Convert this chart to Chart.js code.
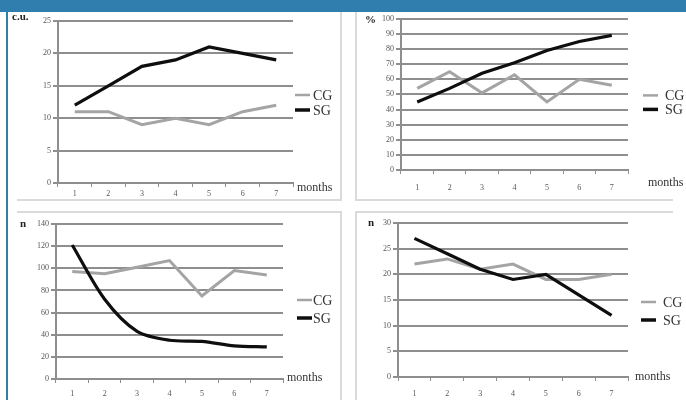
<!DOCTYPE html>
<html>
<head>
<meta charset="utf-8">
<script src="https://cdn.jsdelivr.net/npm/chart.js@4.4.1/dist/chart.umd.min.js"></script>
<style>
  html, body { margin: 0; padding: 0; background: #fff; }
  body { width: 686px; height: 400px; position: relative; overflow: hidden; }
  .header { position: absolute; left: 0; top: 0; width: 686px; height: 12px; background: #2f7eae; }
  .side { position: absolute; left: 6px; top: 12px; width: 2px; height: 388px; background: #2f7eae; }
  .hline { position: absolute; height: 2px; background: #dadada; }
  .vline { position: absolute; width: 2px; background: #dadada; }
  canvas { position: absolute; display: block; }
</style>
</head>
<body>
<div class="header"></div>
<div class="side"></div>
<div class="hline" style="left:17px; top:199px; width:324px;"></div>
<div class="hline" style="left:17px; top:211px; width:324px;"></div>
<div class="hline" style="left:356px; top:199px; width:317px;"></div>
<div class="hline" style="left:356px; top:211px; width:317px;"></div>
<div class="vline" style="left:340px; top:12px; height:189px;"></div>
<div class="vline" style="left:340px; top:211px; height:189px;"></div>
<div class="vline" style="left:355px; top:12px; height:189px;"></div>
<div class="vline" style="left:355px; top:211px; height:189px;"></div>

<canvas id="c1" width="333" height="188" style="left:8px; top:12px;"></canvas>
<canvas id="c2" width="330" height="188" style="left:356px; top:12px;"></canvas>
<canvas id="c3" width="333" height="188" style="left:8px; top:212px;"></canvas>
<canvas id="c4" width="330" height="188" style="left:356px; top:212px;"></canvas>

<script>
// data
const months = ['1', '2', '3', '4', '5', '6', '7'];
const groups = ['CG', 'SG'];
const xAxisName = 'months';
const units = ['c.u.', '%', 'n', 'n'];

const cuCG = [11, 11, 9, 10, 9, 11, 12];
const cuSG = [12, 15, 18, 19, 21, 20, 19];
const pctCG = [54, 65, 51, 63, 45, 60, 56];
const pctSG = [45, 54, 64, 71, 79, 85, 89];
const countCG = [97, 95, 101, 107, 75, 98, 94];
const countSG = [121, 72, 43, 35, 34, 30, 29];
const count2CG = [22, 23, 21, 22, 19, 19, 20];
const count2SG = [27, 24, 21, 19, 20, 16, 12];

const gridColor = '#8e8e8e';
const cgColor = '#a4a4a4';
const sgColor = '#0e0e0e';
const tickFont = { family: '"Liberation Serif", serif', size: 8 };
const tickColor = '#555';

// unit label, "months" and the legend are painted next to the plot area
const panelText = {
    id: 'panelText',
    afterDraw(chart, args, opts) {
        const { ctx, chartArea } = chart;
        ctx.save();
        ctx.textBaseline = 'middle';
        ctx.textAlign = 'left';
        ctx.fillStyle = '#222';
        ctx.font = 'bold 11px "Liberation Serif", serif';
        ctx.fillText(opts.unit, opts.unitX, chartArea.top + opts.unitDy);

        ctx.fillStyle = '#333';
        ctx.font = '12px "Liberation Serif", serif';
        ctx.fillText(xAxisName, chartArea.right + opts.monthsDx, chartArea.bottom + opts.monthsDy);

        const midY = (chartArea.top + chartArea.bottom) / 2 + opts.legendDy;
        const x0 = chartArea.right + opts.legendDx;
        ctx.font = '14px "Liberation Serif", serif';
        chart.data.datasets.forEach((ds, i) => {
            const y = midY + (i - 0.5) * opts.legendGap;
            ctx.strokeStyle = ds.borderColor;
            ctx.lineWidth = ds.legendWidth;
            ctx.beginPath();
            ctx.moveTo(x0, y);
            ctx.lineTo(x0 + 15, y);
            ctx.stroke();
            ctx.fillStyle = '#333';
            ctx.fillText(ds.label, x0 + opts.textGap, y + 1);
        });
        ctx.restore();
    }
};

function makeChart(id, cfg) {
    return new Chart(document.getElementById(id), {
        type: 'line',
        data: {
            labels: months,
            datasets: [
                { label: groups[0], data: cfg.cg, borderColor: cgColor, borderWidth: 3, legendWidth: 2.5,
                  pointRadius: 0, tension: 0, order: 1 },
                { label: groups[1], data: cfg.sg, borderColor: sgColor, borderWidth: 3.2, legendWidth: 3.5,
                  pointRadius: 0, tension: cfg.tension || 0, order: 0 }
            ]
        },
        options: {
            responsive: false,
            animation: false,
            events: [],
            layout: { padding: { top: cfg.padTop, right: cfg.padRight, left: 0, bottom: 0 } },
            plugins: {
                legend: { display: false },
                tooltip: { enabled: false },
                panelText: cfg.text
            },
            scales: {
                x: {
                    offset: true,
                    afterFit: (s) => { s.height = cfg.xHeight; },
                    border: { color: gridColor, width: 2 },
                    grid: { offset: true, drawOnChartArea: false, tickLength: 4, color: gridColor, lineWidth: 1 },
                    ticks: { padding: cfg.xPad, font: tickFont, color: tickColor, maxRotation: 0 }
                },
                y: {
                    min: 0,
                    max: cfg.max,
                    afterFit: (s) => { s.width = cfg.yWidth; },
                    border: { color: gridColor, width: 2 },
                    grid: { color: gridColor, lineWidth: 2, tickLength: 5 },
                    ticks: { stepSize: cfg.step, padding: 2, font: tickFont, color: tickColor }
                }
            }
        },
        plugins: [panelText]
    });
}

makeChart('c1', {
    cg: cuCG, sg: cuSG, max: 25, step: 5,
    padTop: 9, padRight: 48, yWidth: 50, xHeight: 17, xPad: 2,
    text: { unit: units[0], unitX: 4, unitDy: -4, monthsDx: 4, monthsDy: 5,
            legendDx: 2, textGap: 18, legendDy: 0.5, legendGap: 15 }
});

makeChart('c2', {
    cg: pctCG, sg: pctSG, max: 100, step: 10,
    padTop: 4, padRight: 58, yWidth: 45, xHeight: 30, xPad: 9,
    text: { unit: units[1], unitX: 9, unitDy: 1, monthsDx: 20, monthsDy: 13,
            legendDx: 15, textGap: 22, legendDy: 8, legendGap: 14 }
});

makeChart('c3', {
    cg: countCG, sg: countSG, max: 140, step: 20, tension: 0.3,
    padTop: 12, padRight: 58, yWidth: 48, xHeight: 21, xPad: 6,
    text: { unit: units[2], unitX: 12, unitDy: 0, monthsDx: 4, monthsDy: -1,
            legendDx: 14, textGap: 16, legendDy: 7.5, legendGap: 18 }
});

makeChart('c4', {
    cg: count2CG, sg: count2SG, max: 30, step: 5,
    padTop: 11, padRight: 58, yWidth: 42, xHeight: 23, xPad: 8,
    text: { unit: units[3], unitX: 12, unitDy: 0, monthsDx: 7, monthsDy: 0,
            legendDx: 13, textGap: 22, legendDy: 11, legendGap: 18 }
});
</script>
</body>
</html>
